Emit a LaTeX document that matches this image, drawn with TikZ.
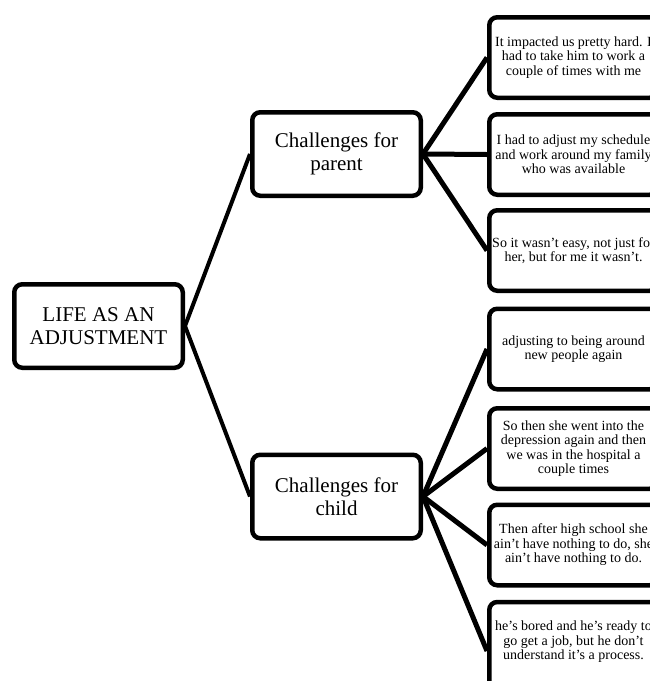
\documentclass[tikz,border=0pt]{standalone}
\usepackage{fontspec}
\setmainfont{Liberation Serif}
\usetikzlibrary{backgrounds}
\begin{document}
\begin{tikzpicture}[x=1pt,y=-1pt,
  box/.style={draw=black, fill=white, line width=4.5pt, rounded corners=8pt,
    inner sep=0pt, minimum width=168.5pt, minimum height=83.5pt, align=center},
  mainbox/.style={box, font=\fontsize{21}{22.5}\selectfont},
  leafbox/.style={box, minimum height=80.5pt},
  leaftext/.style={align=center, inner sep=0pt, font=\fontsize{14}{14.5}\selectfont},
  rootlink/.style={draw=black, line width=4pt},
  link/.style={draw=black, line width=5pt},
]
\useasboundingbox (0,0) rectangle (650,681);
\clip (0,0) rectangle (650,681);

% main topic and the two branches
\node[mainbox, font=\fontsize{21}{23}\selectfont] (root) at (98.5,326) {LIFE AS AN\\ADJUSTMENT};
\node[mainbox] (parent) at (336.5,154) {Challenges for\\parent};
\node[mainbox] (child) at (336.5,496.5) {Challenges for\\child};

% quotation boxes, running off the right edge
\node[leafbox] (p1) at (573.5,57.5) {};
\node[leafbox] (p2) at (573.5,154.5) {};
\node[leafbox] (p3) at (573.5,250.5) {};
\node[leafbox] (c1) at (573.5,349) {};
\node[leafbox] (c2) at (573.5,448.5) {};
\node[leafbox] (c3) at (573.5,545) {};
\node[leafbox, minimum height=98pt] (c4) at (573.5,651) {};

\node[leaftext] (p1t) at (p1) {It impacted us pretty hard. I\\had to take him to work a\\couple of times with me};
\node[leaftext] (p2t) at (p2) {I had to adjust my schedule\\and work around my family\\who was available};
\node[leaftext] (p3t) at (p3) {So it wasn’t easy, not just for\\her, but for me it wasn’t.};
\node[leaftext] (c1t) at (c1) {adjusting to being around\\new people again};
\node[leaftext] (c2t) at (c2) {So then she went into the\\depression again and then\\we was in the hospital a\\couple times};
\node[leaftext] (c3t) at (c3) {Then after high school she\\ain’t have nothing to do, she\\ain’t have nothing to do.};
\node[leaftext, yshift=9pt] (c4t) at (c4) {he’s bored and he’s ready to\\go get a job, but he don’t\\understand it’s a process.};

% connectors behind the boxes
\begin{scope}[on background layer]
  \draw[rootlink] (root.east) -- (parent.west);
  \draw[rootlink] (root.east) -- (child.west);
  \foreach \leaf in {p1,p2,p3} \draw[link] (parent.east) -- (\leaf.west);
  \foreach \leaf in {c1,c2,c3,c4} \draw[link] (child.east) -- (\leaf.west);
\end{scope}
\end{tikzpicture}
\end{document}
